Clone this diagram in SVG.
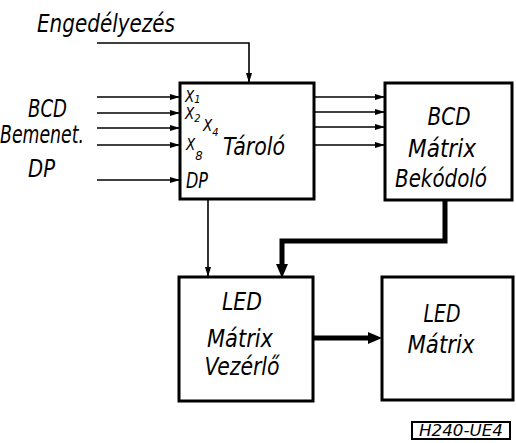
<svg xmlns="http://www.w3.org/2000/svg" width="516" height="443" viewBox="0 0 516 443">
<defs>
<style>
.box{fill:#fff;stroke:#000;stroke-width:3}
.thin{fill:none;stroke:#000;stroke-width:1.6}
.thick{fill:none;stroke:#000;stroke-width:5}
text{font-family:"DejaVu Sans Condensed","Liberation Sans",sans-serif;font-style:italic;fill:#000}
.lbl{font-size:24px}
.in{font-size:24px;text-anchor:middle}
.x{font-size:15px}
.sub{font-size:11px}
</style>
<marker id="a" viewBox="0 0 10 6" refX="10" refY="3" markerWidth="10" markerHeight="6" markerUnits="userSpaceOnUse" orient="auto">
<path d="M0,0 L10,3 L0,6 Z" fill="#000"/>
</marker>
</defs>
<rect width="516" height="443" fill="#fff"/>
<text class="lbl" x="37" y="32" textLength="138" lengthAdjust="spacingAndGlyphs">Engedélyezés</text>
<text class="lbl" x="28" y="117" textLength="39" lengthAdjust="spacingAndGlyphs">BCD</text>
<text class="lbl" x="0" y="143" textLength="84" lengthAdjust="spacingAndGlyphs">Bemenet.</text>
<text class="lbl" x="28" y="177" textLength="27" lengthAdjust="spacingAndGlyphs">DP</text>
<g id="connectors">
<path class="thin" d="M97,43 H249 V83" marker-end="url(#a)"/>
<path class="thin" d="M97,97 H180" marker-end="url(#a)"/>
<path class="thin" d="M97,113 H180" marker-end="url(#a)"/>
<path class="thin" d="M97,128 H180" marker-end="url(#a)"/>
<path class="thin" d="M97,145 H180" marker-end="url(#a)"/>
<path class="thin" d="M97,180 H180" marker-end="url(#a)"/>
<path class="thin" d="M314,97 H385" marker-end="url(#a)"/>
<path class="thin" d="M314,112 H385" marker-end="url(#a)"/>
<path class="thin" d="M314,127 H385" marker-end="url(#a)"/>
<path class="thin" d="M314,145 H385" marker-end="url(#a)"/>
<path class="thin" d="M208,199 V277" marker-end="url(#a)"/>
<path class="thick" d="M445,200 V241 H282 V266"/>
<path d="M276,264 L288,264 L282,278 Z" fill="#000"/>
<path class="thick" d="M313,338 H370"/>
<path d="M368,332 L382,338 L368,344 Z" fill="#000"/>
</g>
<g id="taroló">
<rect class="box" x="180" y="83" width="134" height="116"/>
<text class="x" x="185" y="102">X<tspan class="sub" dy="1">1</tspan></text>
<text class="x" x="185" y="119">X<tspan class="sub" dy="3">2</tspan></text>
<text class="x" x="203" y="131">X<tspan class="sub" dy="5">4</tspan></text>
<text class="x" x="186" y="150">X<tspan class="sub" dy="10" style="font-size:13px">8</tspan></text>
<text x="186" y="188" style="font-size:21px" textLength="22" lengthAdjust="spacingAndGlyphs">DP</text>
<text class="lbl" x="223" y="155" textLength="62" lengthAdjust="spacingAndGlyphs">Tároló</text>
</g>
<g id="bcd">
<rect class="box" x="385" y="83" width="127" height="117"/>
<text class="in" x="449" y="125" textLength="43" lengthAdjust="spacingAndGlyphs">BCD</text>
<text class="in" x="442" y="157" textLength="68" lengthAdjust="spacingAndGlyphs">Mátrix</text>
<text class="in" x="441" y="187" textLength="92" lengthAdjust="spacingAndGlyphs">Bekódoló</text>
</g>
<g id="vezerlo">
<rect class="box" x="179" y="277" width="134" height="124"/>
<text class="in" x="242" y="310" textLength="40" lengthAdjust="spacingAndGlyphs">LED</text>
<text class="in" x="240" y="347" textLength="66" lengthAdjust="spacingAndGlyphs">Mátrix</text>
<text class="in" x="242" y="375" textLength="75" lengthAdjust="spacingAndGlyphs">Vezérlő</text>
</g>
<g id="ledmatrix">
<rect class="box" x="382" y="277" width="131" height="123"/>
<text class="in" x="442" y="322" textLength="37" lengthAdjust="spacingAndGlyphs">LED</text>
<text class="in" x="441" y="353" textLength="67" lengthAdjust="spacingAndGlyphs">Mátrix</text>
</g>
<g id="code">
<rect x="412" y="422" width="98" height="17" fill="#fff" stroke="#000" stroke-width="2"/>
<text x="461" y="436" style="font-size:16px;text-anchor:middle" textLength="84" lengthAdjust="spacingAndGlyphs">H240-UE4</text>
</g>
</svg>
